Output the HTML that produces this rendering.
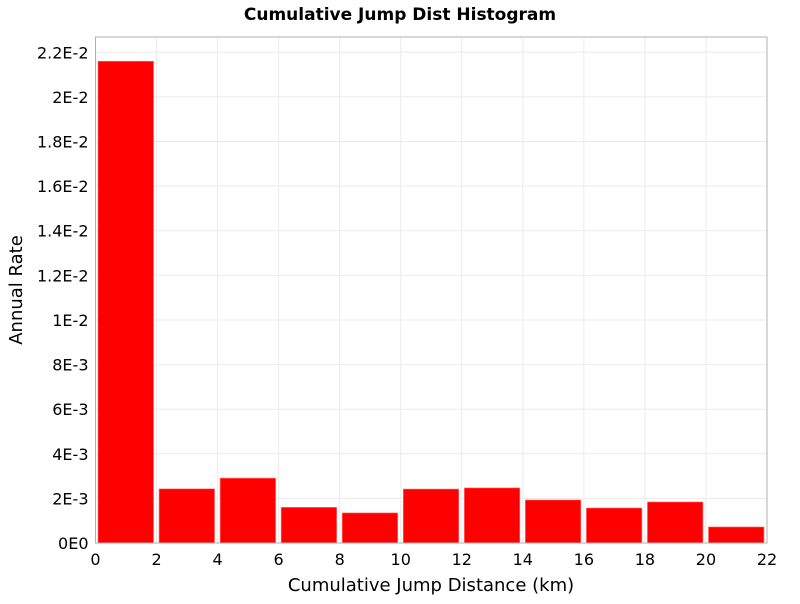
<!DOCTYPE html>
<html><head><meta charset="utf-8"><style>
body{margin:0;background:#fff;font-family:"DejaVu Sans","Liberation Sans",sans-serif}
</style></head><body>
<svg id="c" width="800" height="600" xmlns="http://www.w3.org/2000/svg">
<text x="400" y="20" text-anchor="middle" font-size="17" font-weight="bold">Cumulative Jump Dist Histogram</text>
<text x="588" y="0" transform="translate(0,0)" display="none"></text>
<text x="431" y="591" text-anchor="middle" font-size="18">Cumulative Jump Distance (km)</text>
<text transform="translate(22,290) rotate(-90)" text-anchor="middle" font-size="18">Annual Rate</text>
<g id="grid"></g><g id="bars"></g><g id="axes"></g>
</svg>
<script>
const binStarts=[0,2,4,6,8,10,12,14,16,18,20];
const rates=[0.0216,0.00243,0.00291,0.0016,0.00135,0.00242,0.00247,0.00193,0.00157,0.00184,0.00072];
const xTicks=[0,2,4,6,8,10,12,14,16,18,20,22];
const yTicks=[0,0.002,0.004,0.006,0.008,0.01,0.012,0.014,0.016,0.018,0.02,0.022];
const yLabels=["0E0","2E-3","4E-3","6E-3","8E-3","1E-2","1.2E-2","1.4E-2","1.6E-2","1.8E-2","2E-2","2.2E-2"];
const binWidth=2;
const L=95.5,R=767,T=37,B=543;
const xs=v=>L+v/22*(R-L);
const ys=v=>B-v/0.022*(B-52.3);
const NS="http://www.w3.org/2000/svg";
function mk(t,a,p){const e=document.createElementNS(NS,t);for(const k in a)e.setAttribute(k,a[k]);p.appendChild(e);return e;}
const g=document.getElementById('grid'),b=document.getElementById('bars'),ax=document.getElementById('axes');
xTicks.forEach(v=>{const l=mk('line',{x1:xs(v),x2:xs(v),y1:T,y2:B,stroke:'#ebebeb'},g);


const t=mk('text',{x:xs(v),y:B+22,'text-anchor':'middle','font-size':'16'},ax);t.textContent=v;

});
yTicks.forEach((v,i)=>{const l=mk('line',{x1:L,x2:R,y1:ys(v),y2:ys(v),stroke:'#ebebeb'},g);


const t=mk('text',{x:L-7,y:ys(v)+6,'text-anchor':'end','font-size':'16'},ax);t.textContent=yLabels[i];

});
binStarts.forEach((s,i)=>{const x0=xs(s)+2.5,x1=xs(s+binWidth)-3,y=ys(rates[i]);
const r=mk('rect',{x:x0,y:y,width:x1-x0,height:B-y,fill:'#ff0000',stroke:'#ff8080','stroke-width':'0.6'},b);

});
const fr=mk('rect',{x:L,y:T,width:R-L,height:B-T,fill:'none',stroke:'#b0b0b0'},ax);


</script>
</body></html>
